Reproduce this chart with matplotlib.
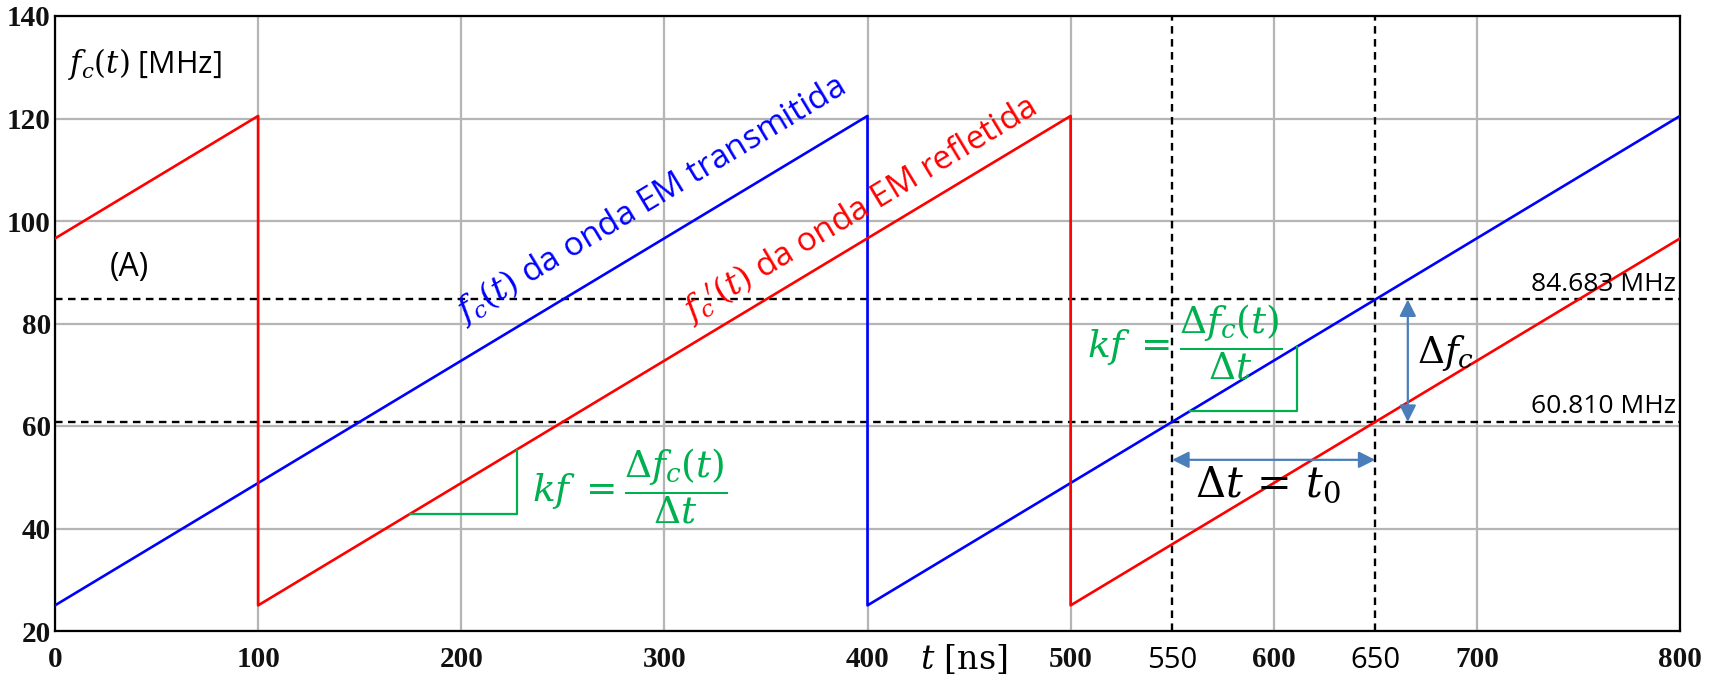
import numpy as np
import matplotlib
matplotlib.use("Agg")
import matplotlib.pyplot as plt

plt.rcParams['font.family'] = ['Open Sans', 'DejaVu Sans']
plt.rcParams['mathtext.fontset'] = 'dejavuserif'

# transmitted / reflected chirp (sawtooth), MHz vs ns
t_tx = [0, 400, 400, 800]
f_tx = [25.0, 120.5, 25.0, 120.5]
t_rx = [0, 100, 100, 500, 500, 800]
f_rx = [96.6, 120.5, 25.0, 120.5, 25.0, 96.6]

f_levels = [84.683, 60.810]
f_level_labels = ["84.683 MHz", "60.810 MHz"]
t_marks = [550, 650]

x_ticks = [0, 100, 200, 300, 400, 500, 600, 700, 800]
y_ticks = [20, 40, 60, 80, 100, 120, 140]

green = '#00b050'
arrow_c = '#4a7ebb'

fig = plt.figure(figsize=(17.21, 6.81), dpi=100)
ax = fig.add_axes([55 / 1721, 50 / 681, 1625 / 1721, 615 / 681])
ax.set_xlim(0, 800)
ax.set_ylim(20, 140)
ax.set_xticks(x_ticks)
ax.set_yticks(y_ticks)
ax.grid(True, color='#b5b5b5', lw=1.6, zorder=0)
ax.set_axisbelow(True)
ax.tick_params(length=0, labelsize=21)
ax.tick_params(axis='x', pad=11)
ax.tick_params(axis='y', pad=3)
for lbl in ax.get_xticklabels() + ax.get_yticklabels():
    lbl.set_fontfamily('Liberation Serif')
    lbl.set_fontweight('bold')
    lbl.set_color('#111111')
for s in ax.spines.values():
    s.set_linewidth(1.6)
    s.set_color('black')

# extra ticks at 550 / 650 (no grid)
ax.set_xticks(t_marks, minor=True)
ax.set_xticklabels([str(v) for v in t_marks], minor=True, fontsize=21, fontfamily='Open Sans')
ax.tick_params(axis='x', which='minor', length=0, pad=11)

dash = (0, (3.2, 2.3))
for f in f_levels:
    ax.axhline(f, color='black', lw=1.7, ls=dash, zorder=2)
for t in t_marks:
    ax.axvline(t, color='black', lw=1.7, ls=dash, zorder=2)

ax.plot(t_tx, f_tx, color='#0000ff', lw=1.9, zorder=3)
ax.plot(t_rx, f_rx, color='#ff0000', lw=1.9, zorder=3)

for f, txt in zip(f_levels, f_level_labels):
    ax.text(798, f + 3.0, txt, ha='right', va='center', fontsize=19, zorder=4)

# slope angle on screen
fig.canvas.draw()
p0 = ax.transData.transform((0, 25.0))
p1 = ax.transData.transform((400, 120.5))
ang = np.degrees(np.arctan2(p1[1] - p0[1], p1[0] - p0[0]))

ax.text(201, 80.0, r"$f_c(t)$ da onda EM transmitida", color='#0000ff', fontsize=24,
        rotation=ang, rotation_mode='anchor', ha='left', va='baseline', zorder=4)
ax.text(313, 80.2, r"$f_c{}^{\prime}(t)$ da onda EM refletida", color='#ff0000', fontsize=24,
        rotation=ang, rotation_mode='anchor', ha='left', va='baseline', zorder=4)

ax.text(6.5, 130.6, r"$f_c(t)$ [MHz]", fontsize=22, va='center', ha='left')
ax.text(27, 91, "(A)", fontsize=23, va='center', ha='left')

# slope triangles
ax.plot([175, 227.5, 227.5], [42.9, 42.9, 55.4], color=green, lw=1.6, zorder=4)
ax.plot([559, 611.5, 611.5], [63.0, 63.0, 75.4], color=green, lw=1.6, zorder=4)
kf = r"$kf\;=\dfrac{\Delta f_c(t)}{\Delta t}$"
ax.text(235, 48.2, kf, color=green, fontsize=27, ha='left', va='center', zorder=4)
ax.text(508, 76.4, kf, color=green, fontsize=27, ha='left', va='center', zorder=4)

# delta arrows
ax.annotate('', xy=(550, 53.4), xytext=(650, 53.4),
            arrowprops=dict(arrowstyle='<|-|>', color=arrow_c, lw=1.6,
                            mutation_scale=25, shrinkA=0, shrinkB=0), zorder=4)
ax.annotate('', xy=(666, 84.683), xytext=(666, 60.81),
            arrowprops=dict(arrowstyle='<|-|>', color=arrow_c, lw=1.6,
                            mutation_scale=25, shrinkA=0, shrinkB=0), zorder=4)
ax.text(597, 48.5, r"$\Delta t\,=\,t_0$", fontsize=30, ha='center', va='center', zorder=4)
ax.text(670.5, 74.2, r"$\Delta f_c$", fontsize=27, ha='left', va='center', zorder=4)

ax.annotate(r"$t\ [\mathrm{ns}]$", xy=(426, -0.02), xycoords=('data', 'axes fraction'),
            fontsize=24, ha='left', va='top', annotation_clip=False)

fig.savefig('out.png', dpi=100)
